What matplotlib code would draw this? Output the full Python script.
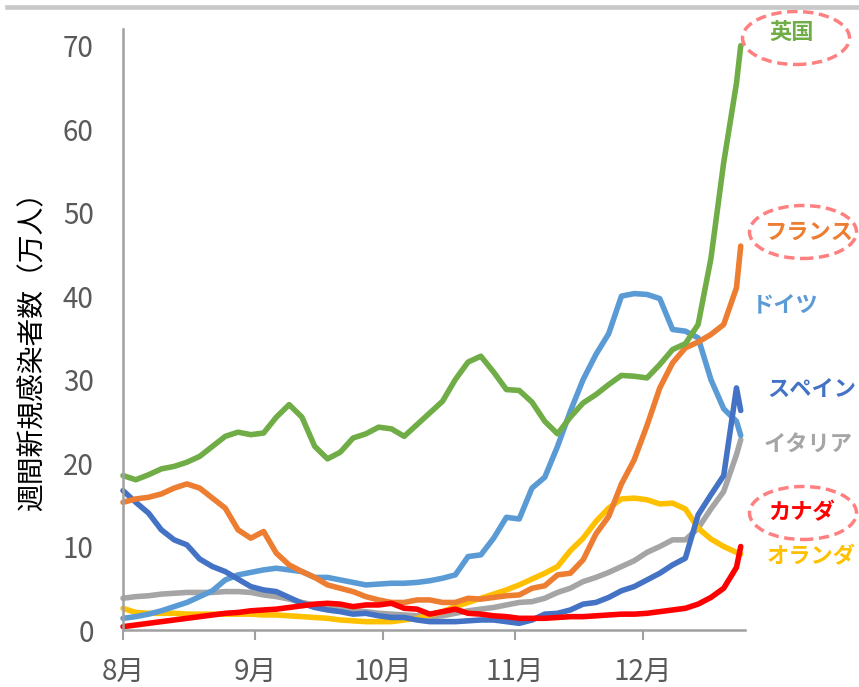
import matplotlib
matplotlib.use("Agg")
import matplotlib.pyplot as plt
from matplotlib.patches import Ellipse
from matplotlib.lines import Line2D

plt.rcParams['font.family'] = ['Noto Sans CJK JP', 'DejaVu Sans']

# days since Aug 1
days = [0, 3, 6, 9, 12, 15, 18, 21, 24, 27, 30, 33, 36, 39, 42, 45, 48, 51, 54, 57,
        60, 63, 66, 69, 72, 75, 78, 81, 84, 87, 90, 93, 96, 99, 102, 105, 108, 111,
        114, 117, 120, 123, 126, 129, 132, 135, 138, 141, 144, 145]

uk = [18.5, 18.0, 18.6, 19.3, 19.6, 20.1, 20.8, 22.0, 23.2, 23.7, 23.4, 23.6, 25.5,
      27.0, 25.5, 22.0, 20.5, 21.3, 23.0, 23.5, 24.3, 24.1, 23.2, 24.6, 26.0, 27.4,
      30.0, 32.1, 32.8, 30.9, 28.8, 28.7, 27.3, 25.0, 23.5, 25.5, 27.2, 28.2, 29.4,
      30.5, 30.4, 30.2, 31.8, 33.6, 34.3, 36.6, 44.5, 56.0, 65.5, 70.0]
france = [15.3, 15.7, 15.9, 16.3, 17.0, 17.5, 17.0, 15.8, 14.6, 12.0, 11.0, 11.8, 9.2,
          7.8, 7.0, 6.3, 5.4, 5.0, 4.6, 4.0, 3.6, 3.3, 3.3, 3.6, 3.6, 3.3, 3.3, 3.8,
          3.7, 3.9, 4.1, 4.2, 5.0, 5.3, 6.6, 6.8, 8.4, 11.5, 13.6, 17.5, 20.4, 24.5,
          29.0, 32.0, 33.8, 34.5, 35.4, 36.6, 41.0, 46.0]
germany = [1.4, 1.6, 1.9, 2.3, 2.8, 3.3, 4.0, 4.7, 6.0, 6.6, 6.9, 7.2, 7.4, 7.2, 7.0,
           6.3, 6.3, 6.0, 5.7, 5.4, 5.5, 5.6, 5.6, 5.7, 5.9, 6.2, 6.6, 8.8, 9.0, 11.0,
           13.5, 13.3, 17.0, 18.3, 22.0, 26.2, 30.0, 33.0, 35.5, 40.0, 40.3, 40.2,
           39.7, 36.0, 35.8, 35.0, 30.0, 26.5, 25.0, 23.3]
spain = [16.7, 15.3, 14.0, 12.0, 10.8, 10.2, 8.5, 7.6, 7.0, 6.1, 5.2, 4.8, 4.6, 3.9,
         3.2, 2.7, 2.4, 2.2, 1.9, 2.0, 1.7, 1.5, 1.5, 1.2, 1.0, 1.0, 1.0, 1.1, 1.2, 1.2,
         1.0, 0.8, 1.2, 1.9, 2.0, 2.4, 3.1, 3.3, 3.9, 4.7, 5.2, 6.0, 6.8, 7.8, 8.6,
         13.8, 16.2, 18.5, 29.0, 26.3]
italy = [3.8, 4.0, 4.1, 4.3, 4.4, 4.5, 4.5, 4.5, 4.6, 4.6, 4.5, 4.2, 4.0, 3.7, 3.3,
         3.0, 2.8, 2.5, 2.3, 2.2, 2.0, 1.9, 1.8, 1.7, 1.6, 1.7, 2.0, 2.3, 2.5, 2.7,
         3.0, 3.3, 3.4, 3.8, 4.5, 5.0, 5.8, 6.3, 6.9, 7.6, 8.3, 9.3, 10.0, 10.8, 10.8,
         12.2, 14.5, 16.6, 21.0, 22.8]
netherlands = [2.6, 2.1, 2.0, 2.0, 2.0, 1.9, 1.9, 1.9, 1.9, 1.9, 1.9, 1.8, 1.8, 1.7,
               1.6, 1.5, 1.4, 1.2, 1.1, 1.0, 1.0, 1.0, 1.2, 1.4, 1.8, 2.2, 2.8, 3.3,
               3.8, 4.3, 4.8, 5.4, 6.1, 6.8, 7.6, 9.5, 11.0, 13.0, 14.6, 15.7, 15.8,
               15.6, 15.1, 15.2, 14.5, 12.2, 10.9, 10.0, 9.3, 9.1]
canada = [0.4, 0.6, 0.8, 1.0, 1.2, 1.4, 1.6, 1.8, 2.0, 2.1, 2.3, 2.4, 2.5, 2.7, 2.9,
          3.1, 3.2, 3.1, 2.8, 3.0, 3.0, 3.2, 2.6, 2.5, 1.9, 2.2, 2.5, 2.0, 1.9, 1.7,
          1.6, 1.4, 1.4, 1.4, 1.5, 1.6, 1.6, 1.7, 1.8, 1.9, 1.9, 2.0, 2.2, 2.4, 2.6,
          3.1, 3.9, 5.0, 7.5, 10.0]

month_ticks = [0, 31, 61, 92, 122]
month_labels = ['8月', '9月', '10月', '11月', '12月']

# draw order, colour, label, label position (figure px)
series = [
    (italy, '#a5a5a5', 'イタリア', 808, 445),
    (netherlands, '#ffc000', 'オランダ', 811, 557),
    (germany, '#5b9bd5', 'ドイツ', 785, 305),
    (spain, '#4472c4', 'スペイン', 812, 389),
    (france, '#ed7d31', 'フランス', 809, 232),
    (uk, '#70ad47', '英国', 792, 32),
    (canada, '#ff0000', 'カナダ', 802, 513),
]
# ellipse centres (figure px)
circles = {'英国': (796, 38), 'フランス': (803, 232), 'カナダ': (803, 513)}

W, H = 859, 687
fig = plt.figure(figsize=(W / 100, H / 100), dpi=100)
ax = fig.add_axes([123 / W, 1 - 630 / H, (745 - 123) / W, (630 - 29) / H])

for vals, color, name, lx, ly in series:
    ax.plot(days, vals, color=color, lw=4.0, solid_joinstyle='round',
            solid_capstyle='round', clip_on=False)
    fig.text(lx / W, 1 - ly / H, name, color=color, fontsize=16,
             fontweight='bold', ha='center', va='center')
    if name in circles:
        cx, cy = circles[name]
        fig.patches.append(Ellipse((cx / W, 1 - cy / H), 107 / W, 53 / H,
                                   transform=fig.transFigure, fill=False,
                                   edgecolor='#ff8080', lw=2.5,
                                   linestyle=(0, (3, 1.6))))

ax.set_xlim(0, 146)
ax.set_ylim(0, 72)
ax.set_yticks(range(0, 71, 10))
ax.set_xticks(month_ticks)
ax.set_xticklabels(month_labels)
ax.tick_params(axis='y', length=0, pad=21, labelsize=20, labelcolor='#595959')
ax.tick_params(axis='x', length=7, width=1.5, color='#a0a0a0', pad=12,
               labelsize=20, labelcolor='#595959')
for side in ['top', 'right']:
    ax.spines[side].set_visible(False)
for side in ['left', 'bottom']:
    ax.spines[side].set_color('#a0a0a0')
    ax.spines[side].set_linewidth(1.8)

fig.text(32 / W, 1 - 345 / H, '週間新規感染者数（万人）', rotation=90,
         fontsize=20, ha='center', va='center', color='black')

# grey rule at the top
fig.add_artist(Line2D([7 / W, 1], [1 - 7 / H, 1 - 7 / H], color='#c8c8c8',
                      lw=3.3, transform=fig.transFigure))

fig.savefig('out.png', dpi=100)
